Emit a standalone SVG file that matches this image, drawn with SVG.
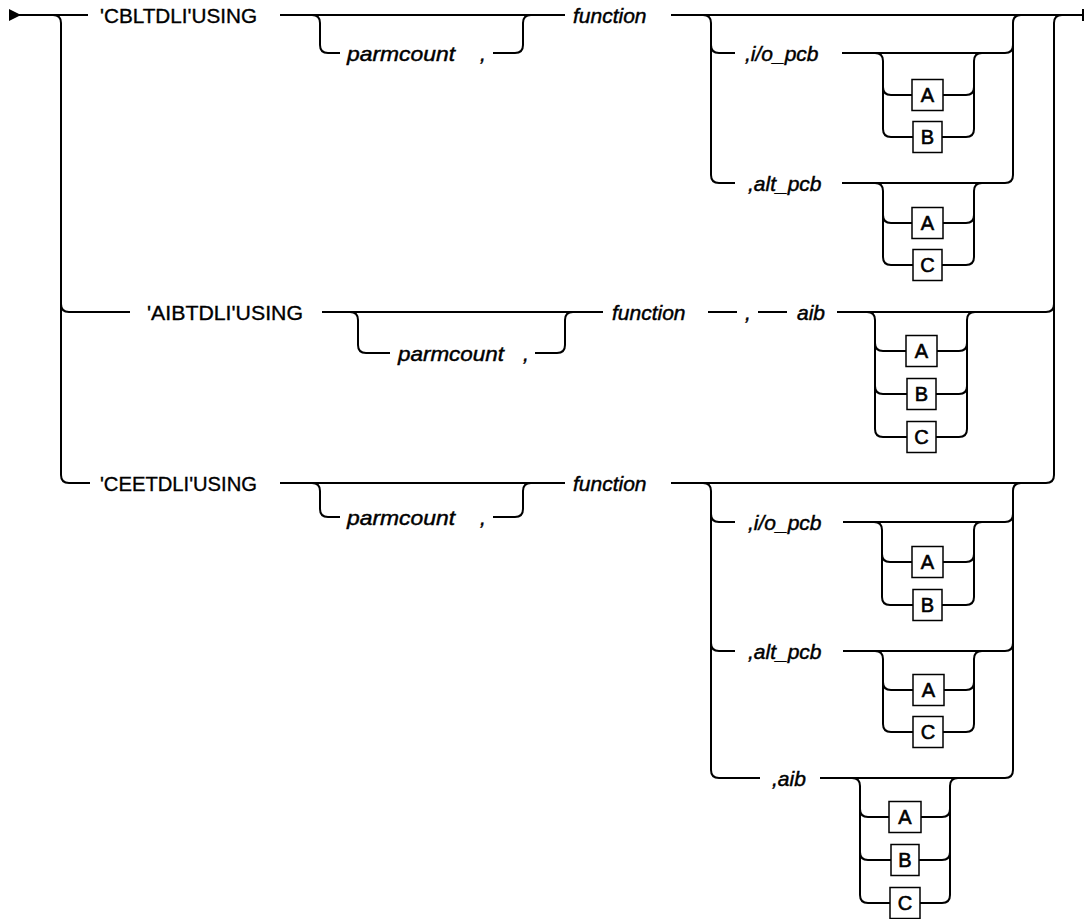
<svg xmlns="http://www.w3.org/2000/svg" width="1085" height="919" viewBox="0 0 1085 919">
<style>
.ln{fill:none;stroke:#000;stroke-width:2;stroke-linecap:butt}
.kw{font-family:"Liberation Sans",Arial,sans-serif;font-size:20.5px;fill:#000;stroke:#000;stroke-width:0.35}
.var{font-family:"Liberation Sans",Arial,sans-serif;font-size:21px;font-style:italic;fill:#000;stroke:#000;stroke-width:0.45}
.box{fill:#fff;stroke:#000;stroke-width:1.5}
.bl{font-family:"Liberation Sans",Arial,sans-serif;font-size:20px;fill:#000;stroke:#000;stroke-width:0.6;text-anchor:middle}
</style>
<rect width="1085" height="919" fill="#fff"/>
<g id="connectors">
<polygon points="9,9 21,15 9,21" fill="#000"/>
<rect x="1082" y="9" width="2" height="12" fill="#000"/>
<path class="ln" d="M10 15 H88 M280 15 H565 M671 15 H1083"/>
<path class="ln" d="M53 15 Q61 15 61 23 V475 Q61 483 69 483 H90 M61 304 Q61 312 69 312 H130"/>
<path class="ln" d="M671 483 H1046 Q1054 483 1054 475 V23 Q1054 15 1062 15 M837 312 H1046 Q1054 312 1054 304"/>
<path class="ln" d="M312 15 Q320 15 320 23 V45 Q320 53 328 53 H340 M493 53 H515 Q523 53 523 45 V23 Q523 15 531 15"/>
<path class="ln" d="M703 15 Q711 15 711 23 V175 Q711 183 719 183 H735 M711 45 Q711 53 719 53 H735"/>
<path class="ln" d="M842 183 H1005 Q1013 183 1013 175 V23 Q1013 15 1021 15 M842 53 H1005 Q1013 53 1013 45"/>
<path class="ln" d="M875 53 Q883 53 883 61 V129 Q883 137 891 137 H913 M883 87 Q883 95 891 95 H912 M942 137 H966 Q974 137 974 129 V61 Q974 53 982 53 M943 95 H966 Q974 95 974 87"/>
<path class="ln" d="M875 183 Q883 183 883 191 V257 Q883 265 891 265 H913 M883 215 Q883 223 891 223 H912 M942 265 H966 Q974 265 974 257 V191 Q974 183 982 183 M943 223 H966 Q974 223 974 215"/>
<path class="ln" d="M322 312 H603 M708 312 H737 M758 312 H787"/>
<path class="ln" d="M350 312 Q358 312 358 320 V345 Q358 353 366 353 H390 M535 353 H557 Q565 353 565 345 V320 Q565 312 573 312"/>
<path class="ln" d="M867 312 Q875 312 875 320 V429 Q875 437 883 437 H907 M875 343 Q875 351 883 351 H906 M875 386 Q875 394 883 394 H907 M936 437 H959 Q967 437 967 429 V320 Q967 312 975 312 M937 351 H959 Q967 351 967 343 M936 394 H959 Q967 394 967 386"/>
<path class="ln" d="M280 483 H565"/>
<path class="ln" d="M312 483 Q320 483 320 491 V509 Q320 517 328 517 H340 M493 517 H515 Q523 517 523 509 V491 Q523 483 531 483"/>
<path class="ln" d="M703 483 Q711 483 711 491 V770 Q711 778 719 778 H760 M711 514 Q711 522 719 522 H735 M711 643 Q711 651 719 651 H735"/>
<path class="ln" d="M820 778 H1005 Q1013 778 1013 770 V491 Q1013 483 1021 483 M843 522 H1005 Q1013 522 1013 514 M843 651 H1005 Q1013 651 1013 643"/>
<path class="ln" d="M874 522 Q882 522 882 530 V597 Q882 605 890 605 H913 M882 554 Q882 562 890 562 H912 M942 605 H966 Q974 605 974 597 V530 Q974 522 982 522 M943 562 H966 Q974 562 974 554"/>
<path class="ln" d="M875 651 Q883 651 883 659 V724 Q883 732 891 732 H913 M883 682 Q883 690 891 690 H913 M943 732 H966 Q974 732 974 724 V659 Q974 651 982 651 M944 690 H966 Q974 690 974 682"/>
<path class="ln" d="M852 778 Q860 778 860 786 V895 Q860 903 868 903 H890 M860 809 Q860 817 868 817 H889 M860 852 Q860 860 868 860 H891 M920 903 H942 Q950 903 950 895 V786 Q950 778 958 778 M921 817 H942 Q950 817 950 809 M919 860 H942 Q950 860 950 852"/>
</g>
<g id="row1">
<g id="kw-cbltdli"><text class="kw" x="100" y="23" textLength="157" lengthAdjust="spacingAndGlyphs">'CBLTDLI'USING</text></g>
<g id="r1-parmcount"><text class="var" x="347" y="61" textLength="108" lengthAdjust="spacingAndGlyphs">parmcount</text><text class="var" x="480" y="61">,</text></g>
<g id="r1-function"><text class="var" x="573" y="23">function</text></g>
<g id="r1-iopcb"><text class="var" x="745" y="61">,i/o_pcb</text></g>
<g id="r1-iopcb-A"><rect class="box" x="912" y="79.5" width="31" height="31"/><text class="bl" x="927.5" y="102">A</text></g>
<g id="r1-iopcb-B"><rect class="box" x="913" y="121.5" width="29" height="31"/><text class="bl" x="927.5" y="144">B</text></g>
<g id="r1-altpcb"><text class="var" x="748" y="191">,alt_pcb</text></g>
<g id="r1-altpcb-A"><rect class="box" x="912" y="207.5" width="31" height="31"/><text class="bl" x="927.5" y="230">A</text></g>
<g id="r1-altpcb-C"><rect class="box" x="913" y="249.5" width="29" height="31"/><text class="bl" x="927.5" y="272">C</text></g>
</g>
<g id="row2">
<g id="kw-aibtdli"><text class="kw" x="147" y="320" textLength="156" lengthAdjust="spacingAndGlyphs">'AIBTDLI'USING</text></g>
<g id="r2-parmcount"><text class="var" x="398" y="361" textLength="106" lengthAdjust="spacingAndGlyphs">parmcount</text><text class="var" x="523" y="361">,</text></g>
<g id="r2-function"><text class="var" x="612" y="320">function</text></g>
<g id="r2-comma"><text class="var" x="745" y="320">,</text></g>
<g id="r2-aib"><text class="var" x="797" y="320">aib</text></g>
<g id="r2-aib-A"><rect class="box" x="906" y="335.5" width="31" height="31"/><text class="bl" x="921.5" y="358">A</text></g>
<g id="r2-aib-B"><rect class="box" x="907" y="378.5" width="29" height="31"/><text class="bl" x="921.5" y="401">B</text></g>
<g id="r2-aib-C"><rect class="box" x="907" y="421.5" width="29" height="31"/><text class="bl" x="921.5" y="444">C</text></g>
</g>
<g id="row3">
<g id="kw-ceetdli"><text class="kw" x="100" y="491" textLength="157" lengthAdjust="spacingAndGlyphs">'CEETDLI'USING</text></g>
<g id="r3-parmcount"><text class="var" x="347" y="525" textLength="108" lengthAdjust="spacingAndGlyphs">parmcount</text><text class="var" x="480" y="525">,</text></g>
<g id="r3-function"><text class="var" x="573" y="491">function</text></g>
<g id="r3-iopcb"><text class="var" x="748" y="530">,i/o_pcb</text></g>
<g id="r3-iopcb-A"><rect class="box" x="912" y="546.5" width="31" height="31"/><text class="bl" x="927.5" y="569">A</text></g>
<g id="r3-iopcb-B"><rect class="box" x="913" y="589.5" width="29" height="31"/><text class="bl" x="927.5" y="612">B</text></g>
<g id="r3-altpcb"><text class="var" x="748" y="659">,alt_pcb</text></g>
<g id="r3-altpcb-A"><rect class="box" x="913" y="674.5" width="31" height="31"/><text class="bl" x="928.5" y="697">A</text></g>
<g id="r3-altpcb-C"><rect class="box" x="913" y="716.5" width="30" height="31"/><text class="bl" x="928" y="739">C</text></g>
<g id="r3-aib"><text class="var" x="772" y="786">,aib</text></g>
<g id="r3-aib-A"><rect class="box" x="889" y="801.5" width="32" height="31"/><text class="bl" x="905" y="824">A</text></g>
<g id="r3-aib-B"><rect class="box" x="891" y="844.5" width="28" height="31"/><text class="bl" x="905" y="867">B</text></g>
<g id="r3-aib-C"><rect class="box" x="890" y="887.5" width="30" height="31"/><text class="bl" x="905" y="910">C</text></g>
</g>
</svg>
